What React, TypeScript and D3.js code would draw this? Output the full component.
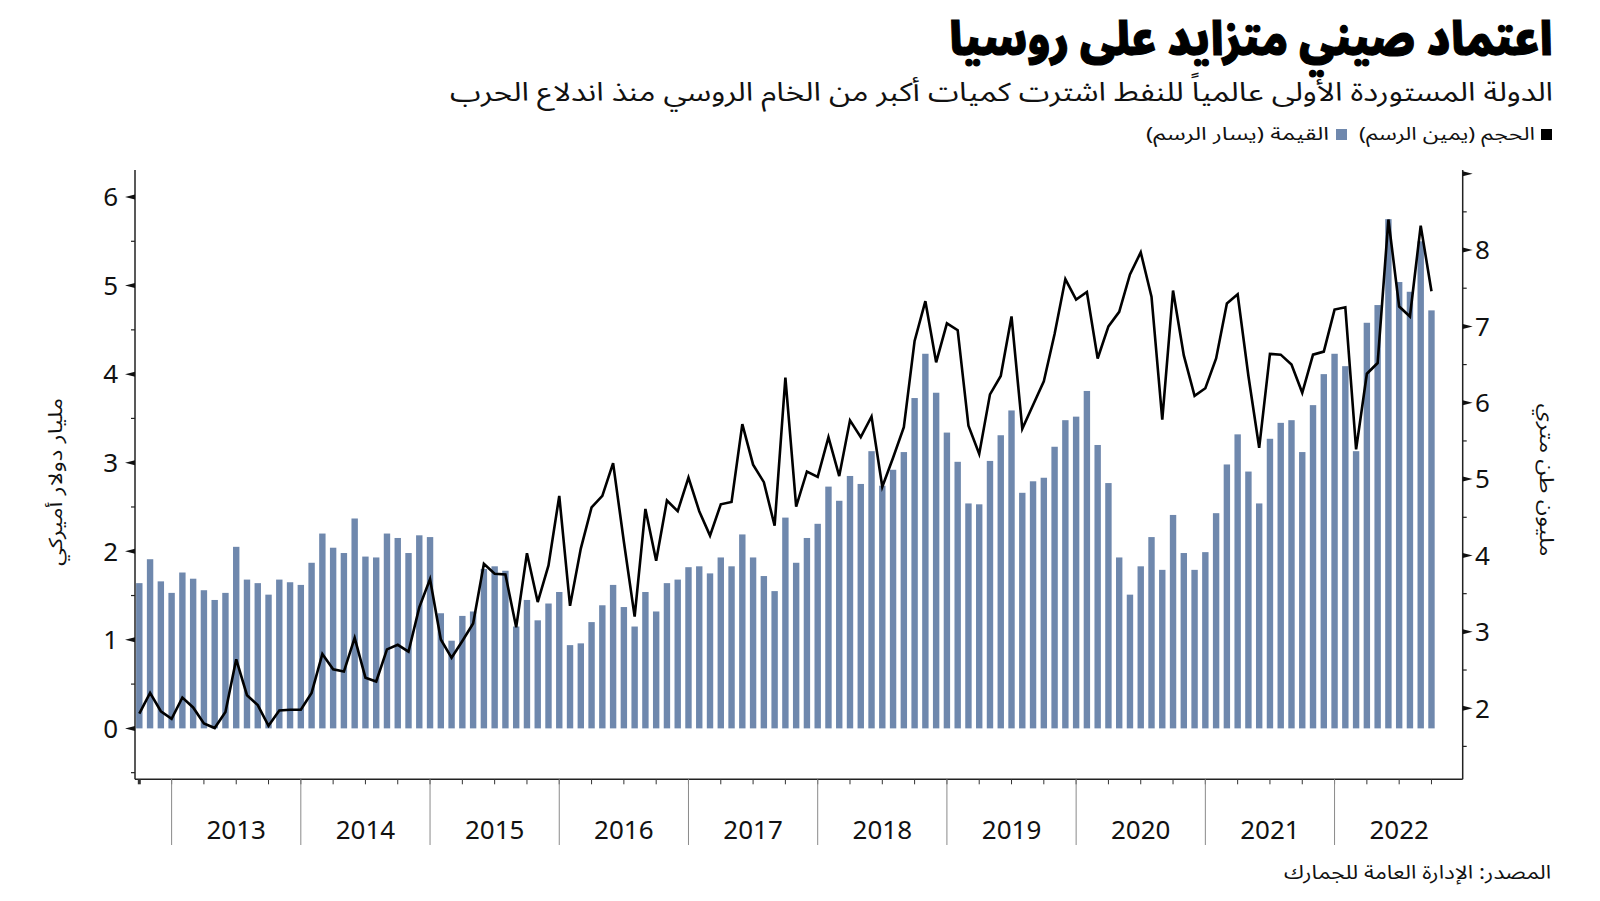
import React from 'react';
import * as d3 from 'd3';

const W = 1600;
const H = 901;

// Monthly series: Oct 2012 .. Oct 2022 (121 months)
const firstMonth = { year: 2012, month: 10 };
const yearLabels = ["2013", "2014", "2015", "2016", "2017", "2018", "2019", "2020", "2021", "2022"];

// Value, billion USD (left axis) - bars
const valueBn = [
  1.64, 1.91, 1.66, 1.53, 1.76, 1.69, 1.56, 1.45, 1.53, 2.05, 1.68, 1.64,
  1.51, 1.68, 1.65, 1.62, 1.87, 2.20, 2.04, 1.98, 2.37, 1.94, 1.93, 2.20,
  2.15, 1.98, 2.18, 2.16, 1.30, 0.99, 1.27, 1.32, 1.80, 1.83, 1.78, 1.15,
  1.45, 1.22, 1.41, 1.54, 0.94, 0.96, 1.20, 1.39, 1.62, 1.37, 1.15, 1.54,
  1.32, 1.64, 1.68, 1.82, 1.83, 1.75, 1.93, 1.83, 2.19, 1.93, 1.72, 1.55,
  2.38, 1.87, 2.15, 2.31, 2.73, 2.57, 2.85, 2.76, 3.13, 2.74, 2.92, 3.12,
  3.73, 4.23, 3.79, 3.34, 3.01, 2.54, 2.53, 3.02, 3.31, 3.59, 2.66, 2.79,
  2.83, 3.18, 3.48, 3.52, 3.81, 3.20, 2.77, 1.93, 1.51, 1.83, 2.16, 1.79,
  2.41, 1.98, 1.79, 1.99, 2.43, 2.98, 3.32, 2.90, 2.54, 3.27, 3.45, 3.48,
  3.12, 3.65, 4.00, 4.23, 4.09, 3.13, 4.58, 4.78, 5.75, 5.04, 4.93, 5.50,
  4.72,
];

// Volume, million tonnes (right axis) - line
const volumeMt = [
  1.93, 2.20, 1.96, 1.86, 2.14, 2.01, 1.80, 1.74, 1.95, 2.64, 2.17, 2.04,
  1.77, 1.97, 1.98, 1.98, 2.20, 2.71, 2.51, 2.48, 2.92, 2.40, 2.35, 2.77,
  2.83, 2.74, 3.32, 3.69, 2.90, 2.66, 2.88, 3.11, 3.89, 3.76, 3.75, 3.06,
  4.03, 3.39, 3.87, 4.78, 3.34, 4.09, 4.63, 4.78, 5.21, 4.18, 3.20, 4.61,
  3.93, 4.72, 4.58, 5.02, 4.58, 4.26, 4.67, 4.70, 5.72, 5.19, 4.96, 4.39,
  6.33, 4.64, 5.10, 5.03, 5.55, 5.04, 5.77, 5.55, 5.82, 4.90, 5.28, 5.68,
  6.81, 7.33, 6.53, 7.04, 6.95, 5.70, 5.33, 6.11, 6.35, 7.13, 5.66, 5.97,
  6.28, 6.90, 7.62, 7.35, 7.45, 6.58, 7.00, 7.19, 7.68, 7.97, 7.39, 5.78,
  7.47, 6.62, 6.09, 6.19, 6.58, 7.30, 7.42, 6.35, 5.41, 6.64, 6.63, 6.50,
  6.13, 6.63, 6.67, 7.22, 7.25, 5.39, 6.38, 6.52, 8.40, 7.26, 7.13, 8.32,
  7.46,
];

const leftTicks = [0, 1, 2, 3, 4, 5, 6];
const leftMinor = [-0.5, 0.5, 1.5, 2.5, 3.5, 4.5, 5.5];
const rightTicks = [2, 3, 4, 5, 6, 7, 8, 9];
const rightLabels = [2, 3, 4, 5, 6, 7, 8];
const rightMinor = [1.5, 2.5, 3.5, 4.5, 5.5, 6.5, 7.5, 8.5];

const title = "اعتماد صيني متزايد على روسيا";
const subtitle = "الدولة المستوردة الأولى عالمياً للنفط اشترت كميات أكبر من الخام الروسي منذ اندلاع الحرب";
const legendVolume = "الحجم (يمين الرسم)";
const legendValue = "القيمة (يسار الرسم)";
const leftTitle = "مليار دولار أميركي";
const rightTitle = "مليون طن متري";
const source = "المصدر: الإدارة العامة للجمارك";

const BAR = "#6f88ad";
const AR = "'Noto Sans Arabic', 'DejaVu Sans', sans-serif";
const NUM = "'Noto Sans', 'Open Sans', sans-serif";

export default function App() {
  const plotLeft = 135;
  const plotRight = 1462.7;
  const plotTop = 170;
  const plotBottom = 779.3;

  const x = d3.scaleLinear().domain([-0.4, 122.9]).range([plotLeft, plotRight]);
  const yL = d3.scaleLinear().domain([-0.575, 6.305]).range([plotBottom, plotTop]);
  const yR = d3.scaleLinear().domain([1.069, 9.048]).range([plotBottom, plotTop]);

  const lineGen = d3
    .line<number>()
    .x((_, i) => x(i))
    .y((d) => yR(d));

  const barW = 6.4;
  const quarterTicks = d3.range(0, valueBn.length, 3);
  const yearStarts = yearLabels.map((_, k) => 3 + 12 * k + (12 - firstMonth.month - 2));

  return (
    <div style={{ position: 'absolute', left: 0, top: 0, width: W, height: H, background: '#fff' }}>
      <svg width={W} height={H} viewBox={`0 0 ${W} ${H}`} style={{ display: 'block' }}>
        <rect x={0} y={0} width={W} height={H} fill="#fff" />

        {/* Titles */}
        <text x={1553} y={55} direction="rtl" textAnchor="start" fontFamily={AR} fontWeight={900} fontSize={46}
          textLength={604} lengthAdjust="spacingAndGlyphs" fill="#000" stroke="#000" strokeWidth={1.2}>{title}</text>
        <text x={1553} y={101} direction="rtl" textAnchor="start" fontFamily={AR} fontSize={26}
          textLength={1103} lengthAdjust="spacingAndGlyphs" fill="#111">{subtitle}</text>

        {/* Legend */}
        <rect x={1541} y={129} width={11} height={11} fill="#000" />
        <text x={1535} y={140} direction="rtl" textAnchor="start" fontFamily={AR} fontSize={18}
          textLength={176} lengthAdjust="spacingAndGlyphs" fill="#111">{legendVolume}</text>
        <rect x={1336} y={129} width={11} height={11} fill={BAR} />
        <text x={1329} y={140} direction="rtl" textAnchor="start" fontFamily={AR} fontSize={18}
          textLength={183} lengthAdjust="spacingAndGlyphs" fill="#111">{legendValue}</text>

        {/* Bars */}
        <g>
          {valueBn.map((v, i) => (
            <rect key={i} x={x(i) - barW / 2} y={yL(v)} width={barW} height={yL(0) - yL(v)} fill={BAR} />
          ))}
        </g>

        {/* Line */}
        <path d={lineGen(volumeMt) || ''} fill="none" stroke="#000" strokeWidth={2.6} strokeLinejoin="miter" />

        {/* Left axis */}
        <line x1={plotLeft} x2={plotLeft} y1={plotTop} y2={plotBottom} stroke="#222" strokeWidth={1.5} />
        {leftMinor.map((t) => (
          <line key={'lm' + t} x1={plotLeft - 4} x2={plotLeft} y1={yL(t)} y2={yL(t)} stroke="#222" strokeWidth={1.2} />
        ))}
        {leftTicks.map((t) => (
          <g key={'lt' + t}>
            <path d={`M${plotLeft},${yL(t) - 2.5} L${plotLeft - 10},${yL(t)} L${plotLeft},${yL(t) + 2.5} Z`} fill="#111" />
            <text x={118} y={yL(t)} dy="0.36em" textAnchor="end" fontFamily={NUM} fontSize={26} fill="#111">{t}</text>
          </g>
        ))}
        <text transform={`translate(62, 482) rotate(-90)`} direction="rtl" textAnchor="middle" fontFamily={AR}
          fontSize={19} textLength={168} lengthAdjust="spacingAndGlyphs" fill="#111">{leftTitle}</text>

        {/* Right axis */}
        <line x1={plotRight} x2={plotRight} y1={plotTop} y2={plotBottom} stroke="#222" strokeWidth={1.5} />
        {rightMinor.map((t) => (
          <line key={'rm' + t} x1={plotRight} x2={plotRight + 4} y1={yR(t)} y2={yR(t)} stroke="#222" strokeWidth={1.2} />
        ))}
        {rightTicks.map((t) => (
          <path key={'rt' + t} d={`M${plotRight},${yR(t) - 2.5} L${plotRight + 10},${yR(t)} L${plotRight},${yR(t) + 2.5} Z`} fill="#111" />
        ))}
        {rightLabels.map((t) => (
          <text key={'rl' + t} x={1475} y={yR(t)} dy="0.36em" textAnchor="start" fontFamily={NUM} fontSize={26} fill="#111">{t}</text>
        ))}
        <text transform={`translate(1540, 480) rotate(90)`} direction="rtl" textAnchor="middle" fontFamily={AR}
          fontSize={19} textLength={153} lengthAdjust="spacingAndGlyphs" fill="#111">{rightTitle}</text>

        {/* X axis */}
        <line x1={plotLeft} x2={plotRight} y1={plotBottom} y2={plotBottom} stroke="#222" strokeWidth={1.5} />
        {quarterTicks.map((i) => (
          <line key={'q' + i} x1={x(i)} x2={x(i)} y1={plotBottom} y2={plotBottom + 5} stroke="#333" strokeWidth={i === 0 ? 3 : 1} />
        ))}
        {yearStarts.map((i) => (
          <line key={'y' + i} x1={x(i)} x2={x(i)} y1={plotBottom} y2={845} stroke="#8a8a8a" strokeWidth={1} />
        ))}
        {yearLabels.map((lab, k) => (
          <text key={lab} x={x(yearStarts[k] + 6)} y={839} textAnchor="middle" fontFamily={NUM} fontSize={26} fill="#111">{lab}</text>
        ))}

        {/* Source */}
        <text x={1551} y={879} direction="rtl" textAnchor="start" fontFamily={AR} fontSize={19}
          textLength={267} lengthAdjust="spacingAndGlyphs" fill="#111">{source}</text>
      </svg>
    </div>
  );
}
